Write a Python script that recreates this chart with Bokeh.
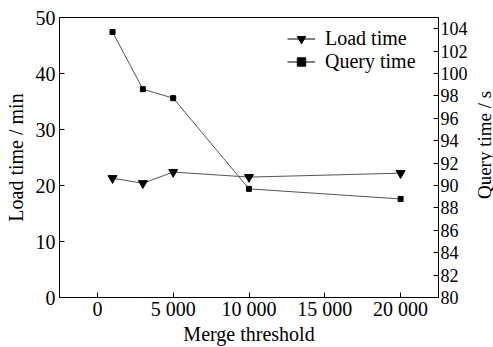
from bokeh.plotting import figure
from bokeh.models import Range1d, LinearAxis, FixedTicker, Legend, LegendItem
from bokeh.layouts import row
from bokeh.core.properties import value
from bokeh.embed import file_html
from bokeh.resources import INLINE
import math

merge_threshold = [1000, 3000, 5000, 10000, 20000]
load_time = [21.3, 20.4, 22.4, 21.5, 22.2]
query_time = [103.7, 98.6, 97.8, 89.7, 88.8]

x_ticks = [0, 5000, 10000, 15000, 20000]
x_tick_labels = ["0", "5 000", "10 000", "15 000", "20 000"]
left_ticks = [0, 10, 20, 30, 40, 50]
right_ticks = [80, 82, 84, 86, 88, 90, 92, 94, 96, 98, 100, 102, 104]
right_axis_title = ["Query time / s"]

FONT = "Liberation Serif"

p = figure(width=472, height=347, output_backend="svg", toolbar_location=None,
           x_range=Range1d(-2500, 22500), y_range=Range1d(0, 50),
           min_border_left=59, min_border_right=34, min_border_top=17, min_border_bottom=48)
p.grid.visible = False
p.outline_line_color = "black"
p.outline_line_width = 1
p.background_fill_color = "white"
p.border_fill_color = "white"

p.extra_y_ranges = {"right": Range1d(80, 105)}

xa = p.xaxis[0]
la = p.yaxis[0]
ra = LinearAxis(y_range_name="right", ticker=FixedTicker(ticks=right_ticks))
p.add_layout(ra, "right")

for ax in [xa, la, ra]:
    ax.major_tick_in = 5
    ax.major_tick_out = 0
    ax.minor_tick_in = 0
    ax.minor_tick_out = 0
    ax.axis_line_color = "black"
    ax.major_tick_line_color = "black"
    ax.major_label_text_font = FONT
    ax.major_label_text_font_size = "20px"
    ax.major_label_text_color = "black"
    ax.axis_label_text_font = FONT
    ax.axis_label_text_font_size = "20px"
    ax.axis_label_text_font_style = "normal"
    ax.axis_label_text_color = "black"

xa.ticker = FixedTicker(ticks=x_ticks)
xa.major_label_overrides = dict(zip(x_ticks, x_tick_labels))
xa.axis_label = "Merge threshold"
xa.major_label_standoff = 0
xa.axis_label_standoff = 0

la.ticker = FixedTicker(ticks=left_ticks)
la.axis_label = "Load time / min"
la.major_label_standoff = 4
la.axis_label_standoff = 6

ra.major_label_text_font_size = "18px"
ra.major_label_standoff = 2

l1 = p.line(merge_threshold, load_time, line_color="#555555", line_width=1)
m1 = p.scatter(merge_threshold, load_time, marker="inverted_triangle", size=9,
               fill_color="black", line_color="black")
l2 = p.line(merge_threshold, query_time, line_color="#555555", line_width=1, y_range_name="right")
m2 = p.scatter(merge_threshold, query_time, marker="square", size=5,
               fill_color="black", line_color="black", y_range_name="right")

lg1 = p.line([0], [0], line_color="black", line_width=1, visible=False)
lg1m = p.scatter([0], [0], marker="inverted_triangle", size=6, fill_color="black", line_color="black", visible=False)
lg2 = p.line([0], [0], line_color="black", line_width=1, visible=False)
lg2m = p.scatter([0], [0], marker="square", size=4, fill_color="black", line_color="black", visible=False)

legend = Legend(items=[LegendItem(label="Load time", renderers=[lg1, lg1m]),
                       LegendItem(label="Query time", renderers=[lg2, lg2m])],
                location=(228, 224))
legend.border_line_color = None
legend.background_fill_alpha = 0
legend.padding = 0
legend.margin = 0
legend.spacing = 0
legend.glyph_width = 28
legend.glyph_height = 21
legend.label_height = 21
legend.label_standoff = 10
legend.label_text_font = FONT
legend.label_text_font_size = "20px"
legend.label_text_color = "black"
p.add_layout(legend, "center")

# narrow strip holding the right-axis title, reading bottom-to-top
strip = figure(width=21, height=347, output_backend="svg", toolbar_location=None,
               x_range=Range1d(0, 1), y_range=Range1d(0, 347),
               min_border=0, min_border_left=0, min_border_right=0,
               min_border_top=0, min_border_bottom=0)
strip.axis.visible = False
strip.grid.visible = False
strip.outline_line_color = None
strip.background_fill_color = "white"
strip.border_fill_color = "white"
strip.text(x=[0.55], y=[189], text=right_axis_title, angle=math.pi / 2,
           text_align="center", text_baseline="middle",
           text_font=value(FONT), text_font_size="19px", text_color="black")

layout = row(p, strip, spacing=0)

open("out.html", "w").write(file_html(layout, INLINE))
